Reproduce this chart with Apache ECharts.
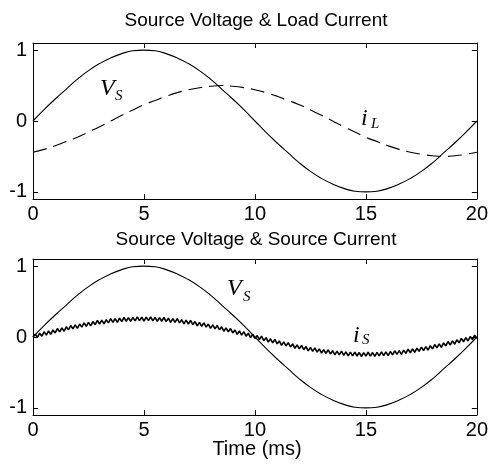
<!DOCTYPE html>
<html>
<head>
<meta charset="utf-8">
<script src="https://cdn.jsdelivr.net/npm/echarts@6/dist/echarts.min.js"></script>
<style>html,body{margin:0;padding:0;background:#fff}#c{width:491px;height:465px}</style>
</head>
<body>
<div id="c"></div>
<script>
// Time base (ms)
const coarseStepMs = 0.5;   // sampling step of Vs and iL
const fineStepMs = 0.1;     // sampling step of iS
const xTicks = [0, 5, 10, 15, 20];
const yTicks = [-1, 0, 1];
const titleTop = 'Source Voltage & Load Current';
const titleBottom = 'Source Voltage & Source Current';
const xAxisName = 'Time (ms)';

// Source voltage Vs (per unit), every 0.5 ms from 0 to 20 ms
const vS = [0, 0.16, 0.31, 0.45, 0.59, 0.71, 0.81, 0.89, 0.95, 0.99, 1.00,
  0.99, 0.95, 0.89, 0.81, 0.71, 0.59, 0.45, 0.31, 0.16, 0,
  -0.16, -0.31, -0.45, -0.59, -0.71, -0.81, -0.89, -0.95, -0.99, -1.00,
  -0.99, -0.95, -0.89, -0.81, -0.71, -0.59, -0.45, -0.31, -0.16, 0];

// Load current iL, every 0.5 ms
const iL = [-0.44, -0.40, -0.35, -0.29, -0.23, -0.155, -0.08, 0, 0.08, 0.155, 0.23,
  0.29, 0.35, 0.40, 0.44, 0.47, 0.49, 0.50, 0.49, 0.47, 0.44,
  0.40, 0.35, 0.29, 0.23, 0.155, 0.08, 0, -0.08, -0.155, -0.23,
  -0.29, -0.35, -0.40, -0.44, -0.47, -0.49, -0.50, -0.49, -0.47, -0.44];

// Source current iS (with switching ripple), every 0.1 ms
const iS = [0.00, 0.038, -0.004, 0.054, 0.011, 0.074, 0.027, 0.085, 0.037, 0.100,
  0.057, 0.120, 0.072, 0.129, 0.081, 0.144, 0.100, 0.162, 0.114, 0.171,
  0.122, 0.183, 0.139, 0.200, 0.151, 0.207, 0.157, 0.218, 0.173, 0.233,
  0.182, 0.237, 0.186, 0.245, 0.199, 0.258, 0.206, 0.259, 0.207, 0.265,
  0.218, 0.275, 0.222, 0.274, 0.221, 0.277, 0.228, 0.284, 0.230, 0.280,
  0.225, 0.280, 0.230, 0.284, 0.228, 0.277, 0.221, 0.274, 0.222, 0.275,
  0.218, 0.265, 0.207, 0.259, 0.206, 0.258, 0.199, 0.245, 0.186, 0.237,
  0.182, 0.233, 0.173, 0.218, 0.157, 0.207, 0.151, 0.200, 0.139, 0.183,
  0.122, 0.171, 0.114, 0.162, 0.100, 0.144, 0.081, 0.129, 0.072, 0.120,
  0.057, 0.100, 0.037, 0.085, 0.027, 0.074, 0.011, 0.054, -0.009, 0.038,
  -0.020, 0.022, -0.036, 0.011, -0.051, -0.009, -0.072, -0.025, -0.082, -0.035,
  -0.097, -0.055, -0.117, -0.069, -0.126, -0.079, -0.140, -0.097, -0.159, -0.111,
  -0.167, -0.118, -0.179, -0.135, -0.196, -0.147, -0.202, -0.153, -0.213, -0.168,
  -0.227, -0.177, -0.231, -0.180, -0.239, -0.193, -0.251, -0.199, -0.252, -0.200,
  -0.258, -0.210, -0.267, -0.214, -0.266, -0.212, -0.268, -0.219, -0.275, -0.220,
  -0.270, -0.215, -0.270, -0.219, -0.273, -0.217, -0.266, -0.209, -0.262, -0.210,
  -0.263, -0.205, -0.252, -0.194, -0.246, -0.193, -0.244, -0.185, -0.231, -0.172,
  -0.222, -0.168, -0.218, -0.158, -0.202, -0.142, -0.191, -0.135, -0.184, -0.123,
  -0.167, -0.106, -0.154, -0.097, -0.145, -0.084, -0.126, -0.064, -0.112, -0.055,
  -0.102, -0.040, -0.082, -0.020, -0.067, -0.009, -0.056, 0.006, -0.036, 0.027,
  -0.020];

const pairs = (arr, step) => arr.map((v, i) => [i * step, v]);

const FONT = '"Liberation Sans", Arial, sans-serif';
const SERIF = '"Liberation Serif", "Times New Roman", serif';
const black = '#000';

function xAxes(gi) {
  return [
    {
      type: 'value', gridIndex: gi, min: 0, max: 20, interval: 5, position: 'bottom',
      axisLine: { show: true, onZero: false, lineStyle: { color: black, width: 1 } },
      axisTick: { show: true, inside: true, length: 5, lineStyle: { color: black } },
      axisLabel: { show: true, color: black, fontFamily: FONT, fontSize: 20, margin: 5,
        customValues: xTicks },
      splitLine: { show: false }
    },
    {
      type: 'value', gridIndex: gi, min: 0, max: 20, interval: 5, position: 'top',
      axisLine: { show: true, onZero: false, lineStyle: { color: black, width: 1 } },
      axisTick: { show: true, inside: true, length: 5, lineStyle: { color: black } },
      axisLabel: { show: false },
      splitLine: { show: false }
    }
  ];
}
function yAxes(gi) {
  return [
    {
      type: 'value', gridIndex: gi, min: -1.1, max: 1.1, position: 'left',
      axisLine: { show: true, onZero: false, lineStyle: { color: black, width: 1 } },
      axisTick: { show: true, inside: true, length: 5, customValues: yTicks, lineStyle: { color: black } },
      axisLabel: { show: true, color: black, fontFamily: FONT, fontSize: 20, margin: 6,
        customValues: yTicks },
      splitLine: { show: false }
    },
    {
      type: 'value', gridIndex: gi, min: -1.1, max: 1.1, position: 'right',
      axisLine: { show: true, onZero: false, lineStyle: { color: black, width: 1 } },
      axisTick: { show: true, inside: true, length: 5, customValues: yTicks, lineStyle: { color: black } },
      axisLabel: { show: false },
      splitLine: { show: false }
    }
  ];
}

const chart = echarts.init(document.getElementById('c'), null, { renderer: 'canvas' });
const lineBase = { type: 'line', showSymbol: false, symbol: 'none', animation: false, silent: true };

chart.setOption({
  backgroundColor: '#fff',
  animation: false,
  grid: [
    { left: 33, right: 12, top: 43, height: 156 },
    { left: 33, right: 12, top: 259, height: 156 }
  ],
  xAxis: [...xAxes(0), ...xAxes(1)],
  yAxis: [...yAxes(0), ...yAxes(1)],
  series: [
    Object.assign({}, lineBase, { name: 'Vs', xAxisIndex: 0, yAxisIndex: 0, smooth: true,
      data: pairs(vS, coarseStepMs), lineStyle: { color: black, width: 1.1 } }),
    Object.assign({}, lineBase, { name: 'iL', xAxisIndex: 0, yAxisIndex: 0, smooth: true,
      data: pairs(iL, coarseStepMs), lineStyle: { color: black, width: 1.1, type: [14, 7] } }),
    Object.assign({}, lineBase, { name: 'Vs2', xAxisIndex: 2, yAxisIndex: 2, smooth: true,
      data: pairs(vS, coarseStepMs), lineStyle: { color: black, width: 1.1 } }),
    Object.assign({}, lineBase, { name: 'iS', xAxisIndex: 2, yAxisIndex: 2,
      data: pairs(iS, fineStepMs), lineStyle: { color: black, width: 1.6 } })
  ],
  graphic: [
    { type: 'text', x: 256, y: 21, style: { text: titleTop, font: '19px ' + FONT, fill: black, align: 'center', verticalAlign: 'middle' } },
    { type: 'text', x: 256, y: 240, style: { text: titleBottom, font: '19px ' + FONT, fill: black, align: 'center', verticalAlign: 'middle' } },
    { type: 'text', x: 257, y: 449, style: { text: xAxisName, font: '20px ' + FONT, fill: black, align: 'center', verticalAlign: 'middle' } },
    // top annotations
    { type: 'text', x: 100, y: 89, style: { text: 'V', font: 'italic 24px ' + SERIF, fill: black, align: 'left', verticalAlign: 'middle' } },
    { type: 'text', x: 115, y: 96, style: { text: 'S', font: 'italic 15px ' + SERIF, fill: black, align: 'left', verticalAlign: 'middle' } },
    { type: 'text', x: 361, y: 119, style: { text: 'i', font: 'italic 24px ' + SERIF, fill: black, align: 'left', verticalAlign: 'middle' } },
    { type: 'text', x: 371, y: 124, style: { text: 'L', font: 'italic 15px ' + SERIF, fill: black, align: 'left', verticalAlign: 'middle' } },
    // bottom annotations
    { type: 'text', x: 227, y: 289, style: { text: 'V', font: 'italic 24px ' + SERIF, fill: black, align: 'left', verticalAlign: 'middle' } },
    { type: 'text', x: 243, y: 297, style: { text: 'S', font: 'italic 15px ' + SERIF, fill: black, align: 'left', verticalAlign: 'middle' } },
    { type: 'text', x: 353, y: 336, style: { text: 'i', font: 'italic 24px ' + SERIF, fill: black, align: 'left', verticalAlign: 'middle' } },
    { type: 'text', x: 362, y: 340, style: { text: 'S', font: 'italic 15px ' + SERIF, fill: black, align: 'left', verticalAlign: 'middle' } }
  ]
});
</script>
</body>
</html>
